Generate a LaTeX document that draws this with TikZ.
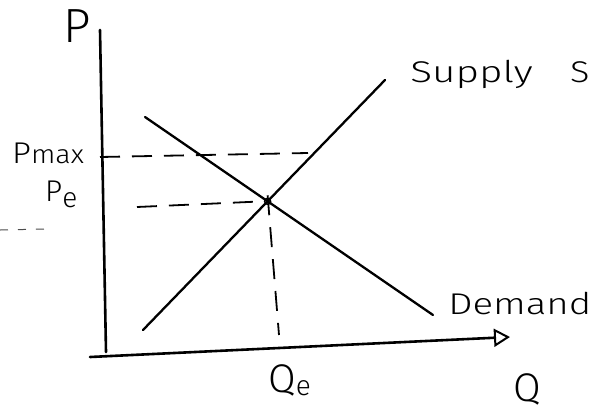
\documentclass[tikz,border=0pt]{standalone}
\usepackage{fontspec}
\setmainfont{Fira Sans Light}
\usetikzlibrary{arrows.meta}
\tikzset{
  x=1pt,y=-1pt,
  axisline/.style={line width=2.6pt,line cap=round},
  curve/.style={line width=2.3pt,line cap=round},
  guide/.style={line width=1.8pt,dash pattern=on 20pt off 12pt},
  stray/.style={line width=1pt,dash pattern=on 8pt off 10pt,black!70},
  lbl/.style={inner sep=0pt,font=\fontsize{30}{30}\selectfont},
}
\begin{document}
\begin{tikzpicture}
\useasboundingbox[fill=white] (0,0) rectangle (594,413);
% axes
\coordinate (ytop) at (100,30);
\coordinate (ybot) at (106,352);
\coordinate (xl) at (90,357);
\coordinate (xr) at (510,337);
\draw[axisline] (ytop) -- (ybot);
\draw[axisline,-{Triangle[open,length=16pt,width=18pt,line width=2pt]}] (xl) -- (xr);
% curves
\coordinate (d1) at (145,117);
\coordinate (d2) at (433,315);
\coordinate (s1) at (143,330);
\coordinate (s2) at (385,80);
\draw[curve] (d1) -- (d2);
\draw[curve] (s1) -- (s2);
\coordinate (E) at (intersection of d1--d2 and s1--s2);
\draw[line width=1.5pt] (E) circle (3pt);
% guides
\coordinate (pmaxL) at (100,157);
\coordinate (pmaxR) at (308,153);
\draw[guide] (pmaxL) -- (pmaxR);
\coordinate (peL) at (137,207);
\draw[guide] (peL) -- ([xshift=-4pt]E);
\coordinate (qeB) at (279,335);
\draw[guide] ([yshift=6pt]E) -- (qeB);
\coordinate (sa) at (0,230);
\coordinate (sb) at (46,229);
\draw[stray] (sa) -- (sb);
% labels
\node[lbl,font=\fontsize{48}{48}\selectfont] (P) at (77,26) {P};
\node[lbl,anchor=base west,xscale=1.1] (Pmax) at (12,163) {P\fontsize{26}{26}\selectfont max};
\node[lbl,anchor=base west] (Pe) at (45,201) {P\raisebox{-6pt}{\fontsize{28}{28}\selectfont e}};
\node[lbl,anchor=base west,xscale=1.35] (Sup) at (410,82) {Supply};
\node[lbl,anchor=base west,xscale=1.2] (SupS) at (570,82) {S};
\node[lbl,anchor=base west,xscale=1.28] (Dem) at (448,314) {Demand};
\node[lbl,anchor=base west,font=\fontsize{40}{40}\selectfont] (Qe) at (268,392) {Q\raisebox{-3pt}{\fontsize{28}{28}\selectfont e}};
\node[lbl,font=\fontsize{40}{40}\selectfont] (Q) at (527,389) {Q};
\end{tikzpicture}
\end{document}
